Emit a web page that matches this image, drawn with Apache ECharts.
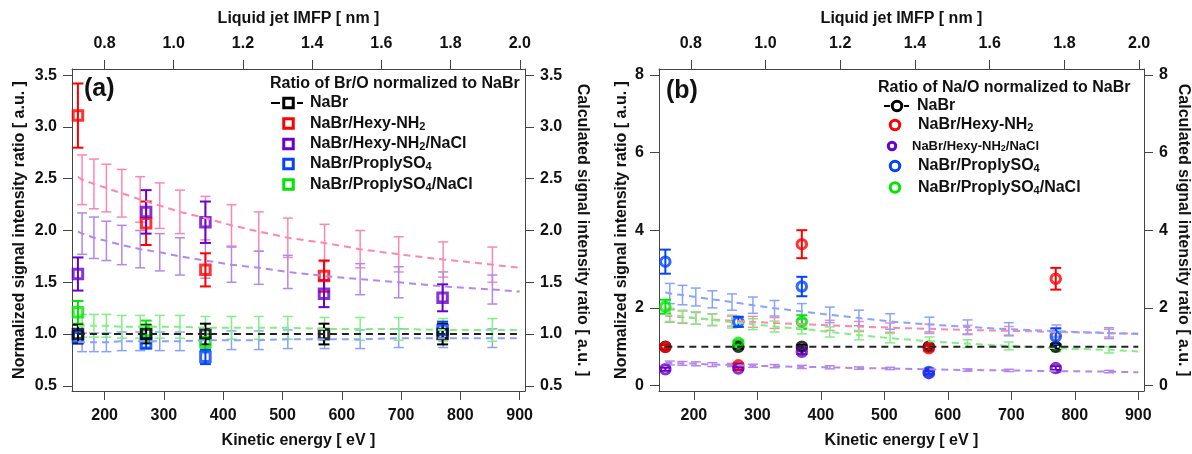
<!DOCTYPE html>
<html><head><meta charset="utf-8">
<script src="https://cdn.jsdelivr.net/npm/echarts@6/dist/echarts.min.js"></script>
<style>html,body{margin:0;padding:0;background:#fff}#c{width:1192px;height:454px}</style>
</head><body><div id="c"></div>
<script>
// ---------- DATA ----------
const kineticEnergy = [155, 270, 370, 570, 770];
const energyTicks = [200, 300, 400, 500, 600, 700, 800, 900];
const imfpTicks = [0.8, 1.0, 1.2, 1.4, 1.6, 1.8, 2.0];
const brYTicks = [0.5, 1.0, 1.5, 2.0, 2.5, 3.0, 3.5];
const naYTicks = [0, 2, 4, 6, 8];

// (a) Br/O experimental
const brNaBr = [1.00, 1.00, 1.00, 1.00, 1.00];
const brNaBrErr = [0.09, 0.09, 0.10, 0.10, 0.10];
const brHexy = [3.11, 2.07, 1.62, 1.56, null];
const brHexyErr = [0.31, 0.21, 0.16, 0.15, null];
const brHexyNaCl = [1.58, 2.18, 2.08, 1.39, 1.35];
const brHexyNaClErr = [0.16, 0.21, 0.20, 0.13, 0.13];
const brPropyl = [0.97, 0.91, 0.78, null, 1.04];
const brPropylErr = [0.06, 0.05, 0.07, null, 0.08];
const brPropylNaCl = [1.21, 1.03, 0.92, null, null];
const brPropylNaClErr = [0.11, 0.10, 0.08, null, null];

// (b) Na/O experimental
const naNaBr = [1.00, 1.00, 1.00, 1.00, 1.00];
const naNaBrErr = [0.05, 0.05, 0.05, 0.05, 0.05];
const naHexy = [0.99, 0.52, 3.64, 0.96, 2.75];
const naHexyErr = [0.05, 0.05, 0.36, 0.06, 0.28];
const naHexyNaCl = [0.42, 0.44, 0.87, 0.32, 0.45];
const naHexyNaClErr = [0.04, 0.04, 0.06, 0.04, 0.05];
const naPropyl = [3.19, 1.64, 2.55, 0.35, 1.27];
const naPropylErr = [0.31, 0.13, 0.25, 0.05, 0.20];
const naPropylNaCl = [2.03, 1.10, 1.64, null, null];
const naPropylNaClErr = [0.18, 0.06, 0.17, null, null];

// calculated curves (first / last entries are line ends without error bars)
const calcEnergy = [155, 162, 182, 203, 229, 260, 293, 327, 370, 414, 460, 509, 571, 631, 696, 771, 854, 900];
const brCalcNaBr = [1, 1, 1, 1, 1, 1, 1, 1, 1, 1, 1, 1, 1, 1, 1, 1, 1, 1];
const brCalcHexy = [2.52, 2.49, 2.45, 2.41, 2.36, 2.30, 2.24, 2.18, 2.12, 2.05, 1.99, 1.93, 1.88, 1.82, 1.77, 1.72, 1.67, 1.64];
const brCalcHexyErr = [null, 0.24, 0.24, 0.23, 0.23, 0.22, 0.22, 0.21, 0.21, 0.20, 0.19, 0.19, 0.18, 0.18, 0.17, 0.17, 0.17, null];
const brCalcHexyNaCl = [1.99, 1.97, 1.93, 1.90, 1.86, 1.82, 1.79, 1.75, 1.71, 1.67, 1.64, 1.60, 1.56, 1.53, 1.50, 1.46, 1.43, 1.41];
const brCalcHexyNaClErr = [null, 0.20, 0.20, 0.19, 0.19, 0.18, 0.18, 0.18, 0.17, 0.17, 0.16, 0.16, 0.15, 0.15, 0.15, 0.14, 0.14, null];
const brCalcPropyl = [0.92, 0.92, 0.92, 0.92, 0.93, 0.93, 0.93, 0.93, 0.94, 0.94, 0.94, 0.95, 0.95, 0.95, 0.96, 0.96, 0.96, 0.96];
const brCalcPropylErr = [null, 0.09, 0.09, 0.09, 0.09, 0.09, 0.09, 0.09, 0.09, 0.09, 0.09, 0.09, 0.09, 0.09, 0.09, 0.09, 0.09, null];
const brCalcPropylNaCl = [1.08, 1.08, 1.08, 1.08, 1.07, 1.07, 1.07, 1.07, 1.06, 1.06, 1.06, 1.06, 1.05, 1.05, 1.05, 1.04, 1.04, 1.04];
const brCalcPropylNaClErr = [null, 0.11, 0.11, 0.11, 0.11, 0.11, 0.11, 0.11, 0.11, 0.11, 0.11, 0.11, 0.11, 0.11, 0.11, 0.11, 0.11, null];

const naCalcNaBr = [1, 1, 1, 1, 1, 1, 1, 1, 1, 1, 1, 1, 1, 1, 1, 1, 1, 1];
const naCalcHexy = [1.80, 1.79, 1.76, 1.73, 1.70, 1.67, 1.64, 1.61, 1.58, 1.55, 1.52, 1.49, 1.46, 1.43, 1.41, 1.38, 1.35, 1.34];
const naCalcHexyErr = [null, 0.16, 0.16, 0.15, 0.15, 0.14, 0.14, 0.14, 0.13, 0.13, 0.13, 0.12, 0.12, 0.12, 0.11, 0.11, 0.10, null];
const naCalcHexyNaCl = [0.58, 0.58, 0.57, 0.56, 0.54, 0.53, 0.51, 0.50, 0.48, 0.47, 0.45, 0.44, 0.42, 0.40, 0.39, 0.37, 0.36, 0.34];
const naCalcHexyNaClErr = [null, 0.05, 0.05, 0.05, 0.05, 0.04, 0.04, 0.04, 0.04, 0.04, 0.03, 0.03, 0.03, 0.03, 0.03, 0.03, 0.03, null];
const naCalcPropyl = [2.40, 2.37, 2.33, 2.28, 2.22, 2.15, 2.07, 1.99, 1.91, 1.82, 1.74, 1.65, 1.57, 1.51, 1.45, 1.40, 1.35, 1.33];
const naCalcPropylErr = [null, 0.26, 0.25, 0.23, 0.22, 0.21, 0.21, 0.20, 0.20, 0.20, 0.20, 0.20, 0.19, 0.18, 0.17, 0.16, 0.14, null];
const naCalcPropylNaCl = [1.84, 1.82, 1.78, 1.74, 1.69, 1.63, 1.58, 1.52, 1.46, 1.38, 1.30, 1.22, 1.14, 1.08, 1.02, 0.96, 0.92, 0.88];
const naCalcPropylNaClErr = [null, 0.17, 0.16, 0.16, 0.15, 0.15, 0.14, 0.14, 0.13, 0.13, 0.12, 0.12, 0.11, 0.10, 0.10, 0.09, 0.08, null];

// ---------- STYLE ----------
const F = 'Liberation Sans';
const COL = {black: '#000000', red: '#ff0000', purple: '#6a00cc', blue: '#0044ff', green: '#00e600'};
const LIGHT = {black: '#222222', red: '#ff86b2', purple: '#b487ec', blue: '#87a3ff', green: '#82ef82'};
const AX = '#444444';

function pts(xs, ys) { return xs.map((x, i) => ys[i] == null ? null : [x, ys[i]]).filter(Boolean); }
function errPts(xs, ys, es) { return xs.map((x, i) => (ys[i] == null || es[i] == null) ? null : [x, ys[i] - es[i], ys[i] + es[i]]).filter(Boolean); }

function errSeries(xi, yi, data, color, lw, cap) {
  return {
    type: 'custom', xAxisIndex: xi, yAxisIndex: yi, silent: true, data: data,
    renderItem: function (params, api) {
      const x = api.value(0), lo = api.value(1), hi = api.value(2);
      const p1 = api.coord([x, hi]), p2 = api.coord([x, lo]);
      const st = {stroke: color, lineWidth: lw, fill: null};
      return {type: 'group', children: [
        {type: 'line', shape: {x1: p1[0], y1: p1[1], x2: p2[0], y2: p2[1]}, style: st},
        {type: 'line', shape: {x1: p1[0] - cap, y1: p1[1], x2: p1[0] + cap, y2: p1[1]}, style: st},
        {type: 'line', shape: {x1: p2[0] - cap, y1: p2[1], x2: p2[0] + cap, y2: p2[1]}, style: st}
      ]};
    }
  };
}
function lineSeries(xi, yi, data, color) {
  return {type: 'line', xAxisIndex: xi, yAxisIndex: yi, data: data, showSymbol: false, silent: true,
    lineStyle: {color: color, width: 2, type: [7, 5]}};
}
function markSeries(xi, yi, data, color, symbol) {
  return {type: 'scatter', xAxisIndex: xi, yAxisIndex: yi, data: data, symbol: symbol, symbolSize: 9.5, silent: true,
    itemStyle: {color: 'rgba(255,255,255,0)', borderColor: color, borderWidth: 3}};
}

const labelStyle = {fontFamily: F, fontWeight: 'bold', fontSize: 16, color: '#111'};
const nameStyle = {fontFamily: F, fontWeight: 'bold', fontSize: 16, color: '#111'};
function xAx(grid, pos, min, max, ticks, name, gap, margin, dec) {
  return {type: 'value', gridIndex: grid, position: pos, min: min, max: max,
    name: name, nameLocation: 'middle', nameGap: gap, nameTextStyle: nameStyle,
    axisLine: {show: true, onZero: false, lineStyle: {color: AX, width: 1}},
    axisTick: {show: true, length: 9, customValues: ticks, lineStyle: {color: AX, width: 1}},
    axisLabel: Object.assign({customValues: ticks, margin: margin, formatter: v => Number(v).toFixed(dec)}, labelStyle),
    splitLine: {show: false}};
}
function yAx(grid, pos, min, max, ticks, name, gap, dec, rot) {
  const o = {type: 'value', gridIndex: grid, position: pos, min: min, max: max,
    name: name, nameLocation: 'middle', nameGap: gap, nameTextStyle: nameStyle,
    axisLine: {show: true, onZero: false, lineStyle: {color: AX, width: 1}},
    axisTick: {show: true, length: 9, customValues: ticks, lineStyle: {color: AX, width: 1}},
    axisLabel: Object.assign({customValues: ticks, margin: 15, formatter: v => Number(v).toFixed(dec)}, labelStyle),
    splitLine: {show: false}};
  if (rot != null) o.nameRotate = rot;
  return o;
}

// ---------- SERIES ----------
const series = [];
function panel(xi, yi, calc, exp, symbol, blackFirst) {
  calc.forEach(c => {
    series.push(lineSeries(xi, yi, pts(calcEnergy, c.v), LIGHT[c.c]));
    if (c.e) series.push(errSeries(xi, yi, errPts(calcEnergy, c.v, c.e), LIGHT[c.c], 1.5, 5));
  });
  const order = blackFirst ? exp : exp.slice(1).concat([exp[0]]);
  order.forEach(s => series.push(errSeries(xi, yi, errPts(kineticEnergy, s.v, s.e), COL[s.c], 2, 5.5)));
  order.forEach(s => series.push(markSeries(xi, yi, pts(kineticEnergy, s.v), COL[s.c], symbol)));
}
panel(0, 0, [
  {v: brCalcHexy, e: brCalcHexyErr, c: 'red'},
  {v: brCalcHexyNaCl, e: brCalcHexyNaClErr, c: 'purple'},
  {v: brCalcPropyl, e: brCalcPropylErr, c: 'blue'},
  {v: brCalcPropylNaCl, e: brCalcPropylNaClErr, c: 'green'},
  {v: brCalcNaBr, e: null, c: 'black'}
], [
  {v: brNaBr, e: brNaBrErr, c: 'black'},
  {v: brPropylNaCl, e: brPropylNaClErr, c: 'green'},
  {v: brPropyl, e: brPropylErr, c: 'blue'},
  {v: brHexy, e: brHexyErr, c: 'red'},
  {v: brHexyNaCl, e: brHexyNaClErr, c: 'purple'}
], 'rect', false);
panel(2, 2, [
  {v: naCalcHexy, e: naCalcHexyErr, c: 'red'},
  {v: naCalcPropylNaCl, e: naCalcPropylNaClErr, c: 'green'},
  {v: naCalcHexyNaCl, e: naCalcHexyNaClErr, c: 'purple'},
  {v: naCalcPropyl, e: naCalcPropylErr, c: 'blue'},
  {v: naCalcNaBr, e: null, c: 'black'}
], [
  {v: naNaBr, e: naNaBrErr, c: 'black'},
  {v: naHexy, e: naHexyErr, c: 'red'},
  {v: naHexyNaCl, e: naHexyNaClErr, c: 'purple'},
  {v: naPropyl, e: naPropylErr, c: 'blue'},
  {v: naPropylNaCl, e: naPropylNaClErr, c: 'green'}
], 'circle', true);

// ---------- LEGENDS (graphic) ----------
const rich = {
  m: {fontFamily: F, fontWeight: 'bold', fontSize: 16, lineHeight: 20, fill: '#111'},
  s: {fontFamily: F, fontWeight: 'bold', fontSize: 11, lineHeight: 12, padding: [6, 0, 0, 0], fill: '#111'},
  m2: {fontFamily: F, fontWeight: 'bold', fontSize: 13, lineHeight: 18, fill: '#111'},
  s2: {fontFamily: F, fontWeight: 'bold', fontSize: 9, lineHeight: 10, padding: [5, 0, 0, 0], fill: '#111'}
};
function txt(x, y, t, size) {
  return {type: 'text', x: x, y: y, silent: true,
    style: {text: t, rich: rich, fontFamily: F, fontWeight: 'bold', fontSize: size || 16, fill: '#111', verticalAlign: 'middle', align: 'left'}};
}
function sym(kind, cx, cy, color, size) {
  const h = size / 2;
  if (kind === 'rect') return {type: 'rect', silent: true, shape: {x: cx - h, y: cy - h, width: size, height: size}, style: {fill: null, stroke: color, lineWidth: 3}};
  return {type: 'circle', silent: true, shape: {cx: cx, cy: cy, r: h}, style: {fill: null, stroke: color, lineWidth: 3}};
}
function dash(x1, x2, y) {
  return {type: 'line', silent: true, shape: {x1: x1, y1: y, x2: x2, y2: y}, style: {stroke: '#000', lineWidth: 2}};
}
const legendA = ['NaBr', '{m|NaBr/Hexy-NH}{s|2}', '{m|NaBr/Hexy-NH}{s|2}{m|/NaCl}', '{m|NaBr/ProplySO}{s|4}', '{m|NaBr/ProplySO}{s|4}{m|/NaCl}'];
const legendB = ['NaBr', '{m|NaBr/Hexy-NH}{s|2}', '{m2|NaBr/Hexy-NH}{s2|2}{m2|/NaCl}', '{m|NaBr/ProplySO}{s|4}', '{m|NaBr/ProplySO}{s|4}{m|/NaCl}'];
const legColors = ['black', 'red', 'purple', 'blue', 'green'];
const graphics = [];
graphics.push({type: 'text', x: 84, y: 89, silent: true, style: {text: '(a)', fontFamily: F, fontWeight: 'bold', fontSize: 25, fill: '#111', verticalAlign: 'middle'}});
graphics.push({type: 'text', x: 666, y: 91, silent: true, style: {text: '(b)', fontFamily: F, fontWeight: 'bold', fontSize: 25, fill: '#111', verticalAlign: 'middle'}});
graphics.push(txt(270, 83.5, 'Ratio of Br/O normalized to NaBr'));
const rowsA = [103, 123.5, 144, 164, 184.5];
rowsA.forEach((y, i) => {
  if (i === 0) { graphics.push(dash(271, 280, y)); graphics.push(dash(297, 303, y)); }
  graphics.push(sym('rect', 288.5, y, COL[legColors[i]], 9.5));
  graphics.push(txt(310, y, legendA[i]));
});
graphics.push(txt(878, 88, 'Ratio of Na/O normalized to NaBr'));
const rowsB = [106, 125, 146, 166, 187.5];
rowsB.forEach((y, i) => {
  const cx = i === 0 ? 897 : (i === 2 ? 892 : 895);
  if (i === 0) { graphics.push(dash(884, 890, y)); graphics.push(dash(904, 909, y)); }
  graphics.push(sym('circle', cx, y, COL[legColors[i]], i === 2 ? 7.5 : 9.5));
  graphics.push(txt(i === 0 ? 917 : (i === 2 ? 912 : 918), y, legendB[i], i === 2 ? 13 : 16));
});

// ---------- CHART ----------
const chart = echarts.init(document.getElementById('c'), null, {renderer: 'canvas'});
chart.setOption({
  animation: false,
  backgroundColor: '#ffffff',
  grid: [
    {left: 72, top: 69, width: 453, height: 328.5},
    {left: 659, top: 69, width: 487, height: 328.5}
  ],
  xAxis: [
    xAx(0, 'bottom', 145, 909, energyTicks, 'Kinetic energy [ eV ]', 42, 17, 0),
    xAx(0, 'top', 0.706, 2.015, imfpTicks, 'Liquid jet IMFP [ nm ]', 42, 17, 1),
    xAx(1, 'bottom', 145, 909, energyTicks, 'Kinetic energy [ eV ]', 42, 17, 0),
    xAx(1, 'top', 0.715, 2.013, imfpTicks, 'Liquid jet IMFP [ nm ]', 42, 17, 1)
  ],
  yAxis: [
    yAx(0, 'left', 0.45, 3.56, brYTicks, 'Normalized signal intensity ratio [ a.u. ]', 44, 1),
    yAx(0, 'right', 0.45, 3.56, brYTicks, 'Calculated signal intensity ratio [ a.u. ]', 49, 1, -90),
    yAx(1, 'left', -0.14, 8.15, naYTicks, 'Normalized signal intensity ratio [ a.u. ]', 29, 0),
    yAx(1, 'right', -0.14, 8.15, naYTicks, 'Calculated signal intensity ratio [ a.u. ]', 31, 0, -90)
  ],
  series: series,
  graphic: {elements: graphics}
});
</script>
</body></html>
